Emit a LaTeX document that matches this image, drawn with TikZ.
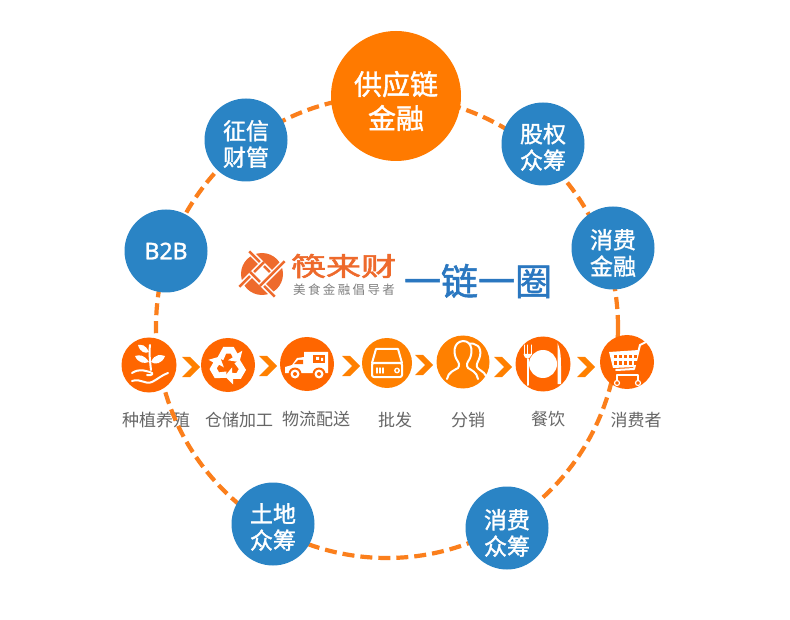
\documentclass[tikz,border=0pt]{standalone}
\usepackage{fontspec}
\usepackage{xcolor}
\setmainfont{Noto Sans CJK SC}
\newfontfamily\cjkspaced[LetterSpace=19]{Noto Sans CJK SC}
\newfontfamily\cjkmedium[FakeBold=1.4]{Noto Sans CJK SC}
\newfontfamily\cjkbrand[FakeBold=1.8]{Noto Sans CJK SC}
\newfontfamily\latinmedium[FakeBold=1.4]{Noto Sans}
\definecolor{ringorange}{HTML}{FB7F1C}
\definecolor{bigorange}{HTML}{FF7A00}
\definecolor{iconred}{HTML}{FF6600}
\definecolor{iconorange}{HTML}{FF8000}
\definecolor{circblue}{HTML}{2A84C5}
\definecolor{logored}{HTML}{EE6A2C}
\definecolor{linkblue}{HTML}{2A77C0}
\definecolor{labelgray}{HTML}{666666}
\tikzset{
  bluecirc/.style={circle, fill=circblue, minimum size=83pt, inner sep=0pt},
  circtext/.style={text=white, align=center, inner sep=0pt,
    font=\fontsize{23}{26.5}\selectfont\cjkmedium},
  stepcirc/.style={circle, fill=#1, inner sep=0pt},
  steplabel/.style={text=labelgray, inner sep=0pt, font=\fontsize{17}{20}\selectfont},
  ringline/.style={draw=ringorange, line width=4.2pt, dash pattern=on 12pt off 6pt},
  iconline/.style={draw=white, line width=2pt, line cap=round, line join=round}
}
\begin{document}
\begin{tikzpicture}[x=1pt, y=-1pt]
  \useasboundingbox (0,0) rectangle (790,620);
  \fill[white] (0,0) rectangle (790,620);

  \foreach \x/\y/\n/\t in {156/420/lblplant/种植养殖,239/420/lblstore/仓储加工,316/419/lbltruck/物流配送,
      395/420/lblbatch/批发,468/420/lblshare/分销,548/419/lblfood/餐饮,636/420/lblbuyer/消费者}{
    \node[steplabel] (\n) at (\x,\y) {\t};
  }

  \coordinate (ringc) at (387,327);
  \draw[ringline] (ringc) circle (231pt);

  \node[circle, fill=bigorange, minimum size=130pt, inner sep=0pt,
        label={[circtext, yshift=-5pt, font=\fontsize{28}{34}\selectfont\cjkmedium]center:供应链\\金融}] (supply) at (396,96) {};

  \foreach \x/\y/\s/\n/\t in {543/144/3/equity/股权\\众筹,613/248/5/consfin/消费\\金融,507/528/5/conscrowd/消费\\众筹,
      273/524/3/land/土地\\众筹,246/140/4/credit/征信\\财管}{
    \node[bluecirc, label={[circtext, yshift=-\s pt]center:\t}] (\n) at (\x,\y) {};
  }
  \node[bluecirc, label={[circtext, font=\fontsize{23}{26.5}\selectfont\latinmedium]center:B2B}] (btob) at (166,251) {};

  \foreach \x/\y/\d/\c/\n in {149/365/55/iconred/plant,228/365/54/iconred/store,307/364/54/iconred/truck,
      387/363/50/iconorange/batch,463/362/53/iconorange/share,543/364/55/iconred/food,627/362/54/iconred/buyer}{
    \node[stepcirc=\c, minimum size=\d pt] (\n) at (\x,\y) {};
  }

  \foreach \x/\y/\n in {182/367/chevA,259/366/chevB,342/366/chevC,415/365/chevD,494/367/chevE,577/367/chevF}{
    \coordinate (\n) at (\x,\y);
    \fill[iconorange] ([shift={(0,-10)}]\n) -- ([shift={(8,-10)}]\n) -- ([shift={(18,0)}]\n)
      -- ([shift={(8,10)}]\n) -- ([shift={(0,10)}]\n) -- ([shift={(10,0)}]\n) -- cycle;
  }

  % plant
  \begin{scope}[shift={(plant)}]
    \draw[iconline] (-17,8) .. controls (-9,3) and (-4,6) .. (1,7) .. controls (5,8) and (4,11) .. (-2,10);
    \draw[iconline] (-17,16) .. controls (-8,13) and (-4,20) .. (3,17) .. controls (9,14) and (13,10) .. (19,8);
    \draw[iconline] (2,5) .. controls (1,-4) and (0,-12) .. (1,-20);
    \fill[white] (2,-3) .. controls (6,-12) and (12,-10) .. (16,-9) .. controls (13,-1) and (6,0) .. (2,-3);
    \fill[white] (0,-3) .. controls (-5,-11) and (-10,-10) .. (-14,-9) .. controls (-11,-2) and (-5,-1) .. (0,-3);
    \fill[white] (0,-13) .. controls (-4,-21) and (-7,-20) .. (-11,-20) .. controls (-9,-13) and (-4,-11) .. (0,-13);
  \end{scope}

  % recycle
  \begin{scope}[shift={(store)}, scale=0.95]
    \foreach \a in {0,120,240}{
      \begin{scope}[rotate=\a]
        \fill[white] (-11,-8) -- (-5,-19) -- (6,-19) -- (10,-12) -- (15,-15) -- (12,-3) -- (0,-5) -- (5,-8) -- (3,-12) -- (-2,-12) -- (-5,-5) -- cycle;
      \end{scope}
    }
  \end{scope}

  % truck
  \begin{scope}[shift={(truck)}]
    \fill[white] (-22,9) -- (-22,3) -- (-15,1) -- (-10,-6) -- (-3,-7) -- (-3,-12) -- (21,-12) -- (21,9) -- cycle;
    \fill[iconred] (-13,0) -- (-9,-4) -- (-4,-4) -- (-4,0) -- cycle;
    \fill[iconred] (6,-9) rectangle (18,-1);
    \fill[white] (9,-7) rectangle (12,-4) (14,-6) rectangle (16,-3);
    \foreach \wx in {-12,12}{
      \fill[iconred] (\wx,10) circle (6.5pt);
      \fill[white] (\wx,10) circle (4.5pt);
      \fill[iconred] (\wx,10) circle (2pt);
    }
  \end{scope}

  % batch
  \begin{scope}[shift={(batch)}]
    \draw[iconline] (-15,0) -- (-11,-14) -- (11,-14) -- (15,0);
    \draw[iconline, rounded corners=2pt] (-15,0) rectangle (15,14);
    \draw[iconline, line width=1.4pt] (-10,5) -- (-10,10) (-7,5) -- (-7,10) (-4,5) -- (-4,10);
    \draw[iconline, line width=1.4pt] (10,7.5) circle (2.2pt);
  \end{scope}

  % share
  \begin{scope}[shift={(share)}]
    \draw[iconline] (5,-18) .. controls (13,-20) and (19,-15) .. (17,-6) .. controls (16,-1) and (13,1) .. (14,5) .. controls (15,8) and (21,9) .. (23,14);
    \draw[iconline, fill=iconorange] (-16,17) .. controls (-15,10) and (-8,8) .. (-5,6) .. controls (-3,3) and (-4,1) .. (-6,-2)
      .. controls (-10,-8) and (-10,-20) .. (0,-21) .. controls (10,-21) and (10,-8) .. (6,-2)
      .. controls (4,1) and (3,3) .. (5,6) .. controls (8,8) and (14,10) .. (15,17);
  \end{scope}

  % food
  \begin{scope}[shift={(food)}]
    \fill[white] (0,0) circle (14pt);
    \draw[iconline] (-15.5,-5) -- (-15.5,21);
    \draw[iconline, line width=1pt] (-19,-19) -- (-19,-9) (-15.5,-19) -- (-15.5,-9) (-12,-19) -- (-12,-9);
    \fill[white] (-19.5,-10) .. controls (-19,-4) and (-12,-4) .. (-11.5,-10) -- cycle;
    \fill[white] (14.5,-21) .. controls (18,-14) and (18,-4) .. (18,5) -- (18,20) -- (14.5,20) -- cycle;
  \end{scope}

  % buyer
  \begin{scope}[shift={(buyer)}]
    \draw[iconline] (19,-20) -- (13,-17) -- (7,7) -- (-11,8);
    \fill[white] (-18,-10) -- (12,-12) -- (8,5) -- (-14,6) -- cycle;
    \foreach \gx in {-13,-8,-3,2,7}{
      \foreach \gy in {-7,-1}{
        \fill[iconred] (\gx,\gy) rectangle ++(3,3.5);
      }
    }
    \draw[iconline, line width=1.4pt] (-10,19) -- (-10,13) -- (11,13) -- (11,19);
    \draw[iconline, fill=iconred, line width=1.2pt] (-10,21) circle (2.5pt) (11,21) circle (2.5pt);
  \end{scope}

  % logo
  \fill[logored] (262,274) circle (21pt);
  \begin{scope}[shift={(262,274)}, rotate=45]
    \fill[white] (-6,-6) rectangle (6,6);
    \foreach \a in {0,90,180,270}{
      \begin{scope}[rotate=\a]
        \draw[white, line width=5.5pt] (7,-24.5) -- (7,9);
        \draw[logored, line width=2.5pt] (7,-25) -- (7,10);
      \end{scope}
    }
  \end{scope}
  \node[inner sep=0pt, text=logored, xscale=1.35, transform shape, font=\fontsize{26}{30}\selectfont\cjkbrand] (brand) at (343.5,266) {筷来财};
  \node[inner sep=0pt, text=gray, font=\fontsize{12.5}{15}\selectfont\cjkspaced] (slogan) at (344,290) {美食金融倡导者};
  \node[inner sep=0pt, text=linkblue, font=\fontsize{37}{42}\selectfont\cjkmedium] (chainrim) at (478,281) {一链一圈};
\end{tikzpicture}
\end{document}
